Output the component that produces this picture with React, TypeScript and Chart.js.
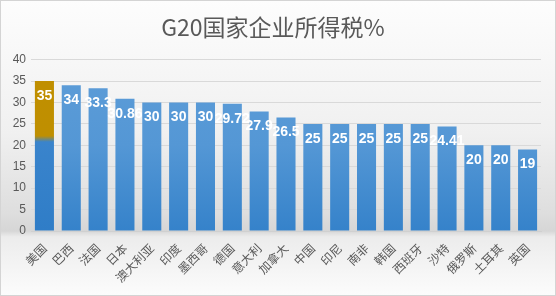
import React, { useEffect, useRef } from "react";
import { Chart, registerables } from "chart.js";

Chart.register(...registerables);

const title = "G20国家企业所得税%";
const countries = ["美国", "巴西", "法国", "日本", "澳大利亚", "印度", "墨西哥", "德国", "意大利", "加拿大", "中国", "印尼", "南非", "韩国", "西班牙", "沙特", "俄罗斯", "土耳其", "英国"];
const taxRates = [35, 34, 33.3, 30.86, 30, 30, 30, 29.72, 27.9, 26.5, 25, 25, 25, 25, 25, 24.41, 20, 20, 19];
const yTicks = [0, 5, 10, 15, 20, 25, 30, 35, 40];

const bgPlugin = {
  id: "bgPlugin",
  beforeDraw(chart: any) {
    const { ctx, width, height } = chart;
    ctx.save();
    const g = ctx.createLinearGradient(0, 0, 0, height);
    g.addColorStop(0, "#fdfdfd");
    g.addColorStop(0.45, "#f0f0f0");
    g.addColorStop(0.72, "#dedede");
    g.addColorStop(0.78, "#d6d6d6");
    g.addColorStop(0.8, "#ececec");
    g.addColorStop(1, "#fcfcfc");
    ctx.fillStyle = g;
    ctx.fillRect(0, 0, width, height);
    ctx.strokeStyle = "#d4d4d4";
    ctx.lineWidth = 1;
    ctx.strokeRect(0.5, 0.5, width - 1, height - 1);
    ctx.restore();
  },
};

const labelPlugin = {
  id: "labelPlugin",
  afterDatasetsDraw(chart: any) {
    const { ctx } = chart;
    const meta = chart.getDatasetMeta(0);
    ctx.save();
    ctx.fillStyle = "#ffffff";
    ctx.font = "bold 14px 'Liberation Sans', 'Noto Sans', sans-serif";
    ctx.textAlign = "center";
    ctx.textBaseline = "middle";
    meta.data.forEach((bar: any, i: number) => {
      ctx.fillText(String(taxRates[i]), bar.x, bar.y + 15);
    });
    ctx.restore();
  },
};

export default function App() {
  const ref = useRef<HTMLCanvasElement>(null);
  useEffect(() => {
    document.body.style.margin = "0";
    const chart = new Chart(ref.current!, {
      type: "bar",
      data: {
        labels: countries,
        datasets: [
          {
            data: taxRates,
            backgroundColor: (c: any) => {
              const ch = c.chart;
              const area = ch.chartArea;
              if (!area) return "#4a8fd2";
              const y = ch.scales.y;
              const ctx = ch.ctx;
              if (c.dataIndex === 0) {
                const top = y.getPixelForValue(35);
                const bot = y.getPixelForValue(0);
                const g = ctx.createLinearGradient(0, top, 0, bot);
                const f = (v: number) => (y.getPixelForValue(v) - top) / (bot - top);
                g.addColorStop(0, "#c08f00");
                g.addColorStop(f(22.2), "#bf8f00");
                g.addColorStop(f(20.8), "#3a84cc");
                g.addColorStop(1, "#2f7dc7");
                return g;
              }
              const g = ctx.createLinearGradient(0, area.top, 0, area.bottom);
              g.addColorStop(0, "#5e9dd8");
              g.addColorStop(0.5, "#5497d5");
              g.addColorStop(1, "#3582ca");
              return g;
            },
            borderWidth: 0,
            categoryPercentage: 1,
            barPercentage: 0.71,
          },
        ],
      },
      options: {
        animation: false,
        responsive: false,
        layout: { padding: { left: 5, right: 15, bottom: 4, top: 0 } },
        plugins: {
          legend: { display: false },
          tooltip: { enabled: false },
          title: {
            display: true,
            text: title,
            color: "#595959",
            font: { size: 23, family: "'Noto Sans CJK SC', sans-serif", weight: "normal" },
            padding: { top: 13, bottom: 19 },
          },
        },
        scales: {
          x: {
            grid: { display: false, drawTicks: false },
            border: { display: true, color: "#d0d0d0" },
            ticks: {
              color: "#595959",
              font: { size: 12, family: "'Noto Sans CJK SC', sans-serif" },
              minRotation: 45,
              maxRotation: 45,
              autoSkip: false,
              padding: 10,
            },
            afterFit: (s: any) => {
              s.height = 61;
            },
          },
          y: {
            min: 0,
            max: 40,
            afterBuildTicks: (s: any) => {
              s.ticks = yTicks.map((v) => ({ value: v }));
            },
            grid: { color: "#d9d9d9", drawTicks: false },
            border: { display: false },
            ticks: {
              color: "#595959",
              font: { size: 12, family: "'Liberation Sans', sans-serif" },
              padding: 5,
            },
            afterFit: (s: any) => {
              s.width = 26;
            },
          },
        },
      },
      plugins: [bgPlugin, labelPlugin],
    } as any);
    return () => chart.destroy();
  }, []);
  return <canvas ref={ref} width={556} height={296} style={{ display: "block" }} />;
}
